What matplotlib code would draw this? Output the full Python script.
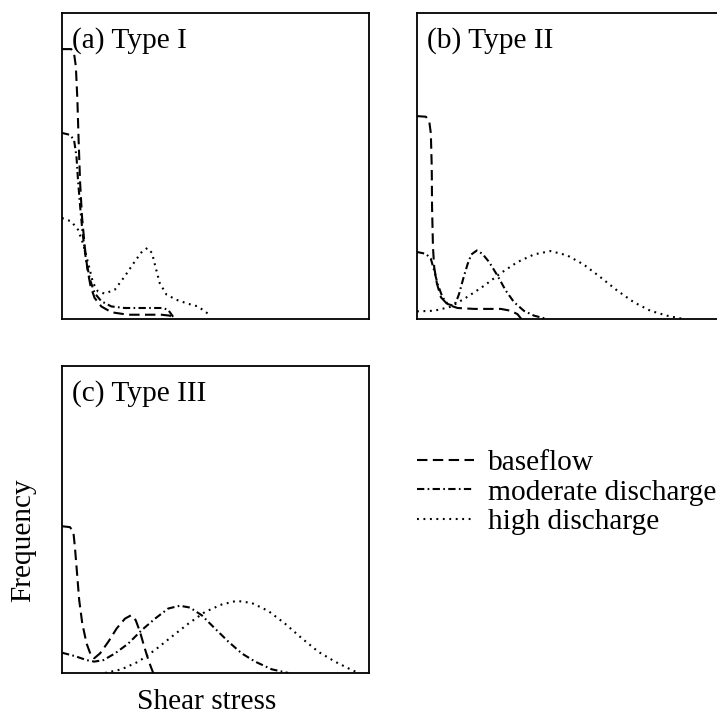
import matplotlib.pyplot as plt

plt.rcParams["font.family"] = ["Liberation Serif", "DejaVu Serif"]

# Schematic shear stress frequency curves, axes scaled 0-1
# (a) Type I
a_base_x = [0, 0.030, 0.039, 0.045, 0.050, 0.054, 0.059, 0.065, 0.074, 0.083, 0.093,
            0.106, 0.128, 0.161, 0.215, 0.324, 0.351, 0.367]
a_base_y = [0.882, 0.882, 0.869, 0.826, 0.717, 0.586, 0.444, 0.336, 0.237, 0.161, 0.107,
            0.069, 0.041, 0.022, 0.014, 0.014, 0.011, 0]
a_mod_x = [0, 0.025, 0.039, 0.047, 0.052, 0.059, 0.067, 0.078, 0.091, 0.106, 0.128,
           0.161, 0.204, 0.324, 0.345, 0.367]
a_mod_y = [0.608, 0.602, 0.586, 0.532, 0.455, 0.368, 0.281, 0.194, 0.129, 0.085, 0.058,
           0.041, 0.036, 0.036, 0.031, 0]
a_high_x = [0, 0.030, 0.052, 0.068, 0.085, 0.101, 0.117, 0.139, 0.172, 0.204, 0.237,
            0.261, 0.278, 0.293, 0.304, 0.318, 0.340, 0.372, 0.410, 0.443, 0.476]
a_high_y = [0.330, 0.319, 0.292, 0.248, 0.183, 0.118, 0.090, 0.083, 0.096, 0.139, 0.188,
            0.221, 0.232, 0.216, 0.172, 0.118, 0.080, 0.063, 0.050, 0.041, 0.017]

# (b) Type II
b_base_x = [0, 0.029, 0.040, 0.045, 0.048, 0.049, 0.052, 0.056, 0.065, 0.078, 0.100,
            0.132, 0.186, 0.273, 0.305, 0.327, 0.340]
b_base_y = [0.663, 0.661, 0.645, 0.607, 0.497, 0.366, 0.235, 0.169, 0.115, 0.071, 0.047,
            0.036, 0.033, 0.033, 0.027, 0.016, 0]
b_mod_x = [0, 0.029, 0.045, 0.056, 0.067, 0.083, 0.100, 0.116, 0.127, 0.137, 0.152,
           0.165, 0.177, 0.195, 0.213, 0.235, 0.262, 0.289, 0.316, 0.348, 0.381, 0.424]
b_mod_y = [0.219, 0.213, 0.197, 0.158, 0.115, 0.071, 0.049, 0.044, 0.055, 0.082, 0.137,
           0.180, 0.211, 0.224, 0.213, 0.186, 0.142, 0.093, 0.055, 0.027, 0.011, 0]
b_high_x = [0, 0.056, 0.110, 0.165, 0.219, 0.273, 0.327, 0.381, 0.435, 0.489, 0.543,
            0.597, 0.652, 0.706, 0.760, 0.814, 0.868]
b_high_y = [0.025, 0.027, 0.040, 0.073, 0.109, 0.150, 0.186, 0.211, 0.222, 0.208, 0.178,
            0.137, 0.093, 0.055, 0.027, 0.011, 0]

# (c) Type III
c_base_x = [0, 0.026, 0.037, 0.042, 0.049, 0.056, 0.066, 0.080, 0.094, 0.105, 0.124,
            0.151, 0.178, 0.205, 0.225, 0.240, 0.254, 0.268, 0.283, 0.297]
c_base_y = [0.478, 0.475, 0.459, 0.410, 0.324, 0.237, 0.161, 0.096, 0.058, 0.048, 0.064,
            0.102, 0.145, 0.177, 0.188, 0.172, 0.134, 0.085, 0.037, 0]
c_mod_x = [0, 0.042, 0.080, 0.105, 0.135, 0.173, 0.216, 0.260, 0.303, 0.346, 0.384,
           0.417, 0.455, 0.498, 0.542, 0.585, 0.629, 0.683, 0.737]
c_mod_y = [0.066, 0.055, 0.042, 0.037, 0.042, 0.064, 0.096, 0.140, 0.177, 0.210, 0.219,
           0.213, 0.188, 0.145, 0.102, 0.064, 0.037, 0.012, 0]
c_high_x = [0.140, 0.194, 0.249, 0.303, 0.357, 0.412, 0.466, 0.520, 0.569, 0.618, 0.672,
            0.726, 0.781, 0.835, 0.889, 0.933, 0.965]
c_high_y = [0, 0.012, 0.037, 0.075, 0.118, 0.161, 0.199, 0.223, 0.235, 0.228, 0.202,
            0.161, 0.113, 0.069, 0.037, 0.015, 0]

panel_titles = ["(a) Type I", "(b) Type II", "(c) Type III"]
series_labels = ["baseflow", "moderate discharge", "high discharge"]

panels = [
    [(a_base_x, a_base_y), (a_mod_x, a_mod_y), (a_high_x, a_high_y)],
    [(b_base_x, b_base_y), (b_mod_x, b_mod_y), (b_high_x, b_high_y)],
    [(c_base_x, c_base_y), (c_mod_x, c_mod_y), (c_high_x, c_high_y)],
]

line_styles = [(0, (5, 2.6)), (0, (3.5, 1.6, 0.8, 1.6)), (0, (0.9, 2.2))]

fig = plt.figure(figsize=(7.17, 7.18), dpi=100)
rects = [
    [0.0865, 0.5557, 0.4282, 0.4262],
    [0.5816, 0.5557, 0.4282, 0.4262],
    [0.0865, 0.0627, 0.4282, 0.4276],
]

fs = 21.2
for rect, title, curves in zip(rects, panel_titles, panels):
    ax = fig.add_axes(rect)
    handles = []
    for (x, y), ls, lab in zip(curves, line_styles, series_labels):
        h, = ax.plot(x, y, color="black", lw=1.5, linestyle=ls, label=lab)
        handles.append(h)
    ax.set_xlim(0, 1)
    ax.set_ylim(0, 1)
    ax.set_xticks([])
    ax.set_yticks([])
    for s in ax.spines.values():
        s.set_linewidth(1.3)
    ax.text(0.032, 0.955, title, transform=ax.transAxes, ha="left", va="top", fontsize=fs)

fig.legend(handles=handles, loc="upper left", bbox_to_anchor=(0.5816, 0.374),
           frameon=False, fontsize=fs, handlelength=1.95, handletextpad=0.45,
           labelspacing=0.1, borderpad=0, borderaxespad=0)

fig.text(0.032, 0.248, "Frequency", rotation=90, ha="center", va="center", fontsize=fs)
fig.text(0.288, 0.022, "Shear stress", ha="center", va="center", fontsize=fs)

fig.savefig("out.png", dpi=100)
